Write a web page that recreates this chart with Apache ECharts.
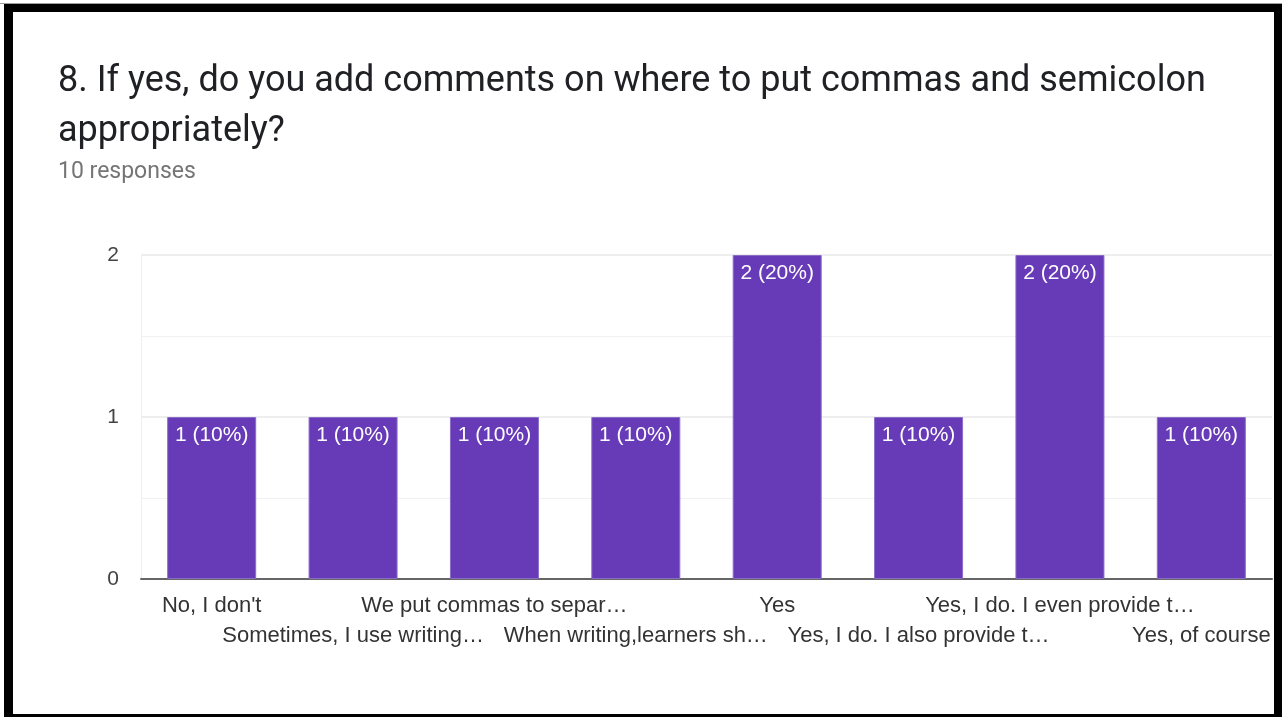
<!DOCTYPE html>
<html>
<head>
<meta charset="utf-8">
<title>Survey question 8</title>
<script src="https://cdn.jsdelivr.net/npm/echarts@6/dist/echarts.min.js"></script>
<style>
  html, body { margin: 0; padding: 0; background: #ffffff; }
  #chart { width: 1282px; height: 717px; }
</style>
</head>
<body>
<div id="chart"></div>
<script>
// Answers (as shown on the axis) and how many respondents gave each
const categories = [
  "No, I don't",
  "Sometimes, I use writing…",
  "We put commas to separ…",
  "When writing,learners sh…",
  "Yes",
  "Yes, I do. I also provide t…",
  "Yes, I do. I even provide t…",
  "Yes, of course"
];
const counts = [1, 1, 1, 1, 2, 1, 2, 1];
const totalResponses = 10;
const yTicks = [0, 1, 2];

const questionText = "8. If yes, do you add comments on where to put commas and semicolon\nappropriately?";
const subText = totalResponses + " responses";

const chart = echarts.init(document.getElementById('chart'), null, { renderer: 'canvas' });

const option = {
  backgroundColor: '#ffffff',
  animation: false,
  title: [
    {
      text: questionText,
      left: 58,
      top: 57,
      padding: 0,
      textStyle: {
        fontFamily: 'Roboto',
        fontSize: 36,
        fontWeight: 'normal',
        lineHeight: 50,
        color: '#202124'
      }
    },
    {
      text: subText,
      left: 58,
      top: 159,
      padding: 0,
      textStyle: {
        fontFamily: 'Roboto',
        fontSize: 23,
        fontWeight: 'normal',
        lineHeight: 26,
        color: '#757575'
      }
    }
  ],
  grid: {
    left: 141,
    right: 10,
    top: 255,
    bottom: 138,
    containLabel: false
  },
  xAxis: {
    type: 'category',
    data: categories,
    axisTick: { show: false },
    axisLine: { lineStyle: { color: '#666666', width: 2 } },
    axisLabel: {
      interval: 0,
      margin: 12,
      fontFamily: 'Liberation Sans, Arial, sans-serif',
      fontSize: 22,
      lineHeight: 30,
      color: '#333333',
      formatter: (value, index) => (index % 2 === 1 ? '\n' + value : value)
    },
    splitLine: { show: false }
  },
  yAxis: {
    type: 'value',
    min: yTicks[0],
    max: yTicks[yTicks.length - 1],
    interval: 1,
    axisLine: { show: true, lineStyle: { color: '#eeeeee', width: 1 } },
    axisTick: { show: false },
    axisLabel: {
      margin: 22,
      padding: [4, 0, 0, 0],
      fontFamily: 'Liberation Sans, Arial, sans-serif',
      fontSize: 21,
      color: '#444444'
    },
    splitLine: { show: true, lineStyle: { color: '#eeeeee', width: 2 } },
    minorTick: { show: false, splitNumber: 2 },
    minorSplitLine: { show: true, lineStyle: { color: '#f1f1f1', width: 1 } }
  },
  series: [
    {
      type: 'bar',
      data: counts,
      barWidth: 89,
      itemStyle: {
        color: '#673ab7',
        borderColor: '#8c6cc9',
        borderWidth: 1
      },
      label: {
        show: true,
        position: 'insideTop',
        distance: 8,
        fontFamily: 'Liberation Sans, Arial, sans-serif',
        fontSize: 21,
        color: '#ffffff',
        formatter: (p) => p.value + ' (' + Math.round(p.value / totalResponses * 100) + '%)'
      }
    }
  ],
  graphic: [
    // black frame around the card
    { type: 'rect', z: 100, shape: { x: 4, y: 4, width: 1278, height: 8 }, style: { fill: '#000000' } },
    { type: 'rect', z: 100, shape: { x: 4, y: 4, width: 9, height: 713 }, style: { fill: '#000000' } },
    { type: 'rect', z: 100, shape: { x: 1274, y: 4, width: 8, height: 713 }, style: { fill: '#000000' } },
    { type: 'rect', z: 100, shape: { x: 4, y: 714, width: 1278, height: 3 }, style: { fill: '#000000' } },
    { type: 'rect', z: 99, shape: { x: 0, y: 3, width: 1282, height: 1 }, style: { fill: '#9e9e9e' } }
  ]
};

chart.setOption(option);
</script>
</body>
</html>
